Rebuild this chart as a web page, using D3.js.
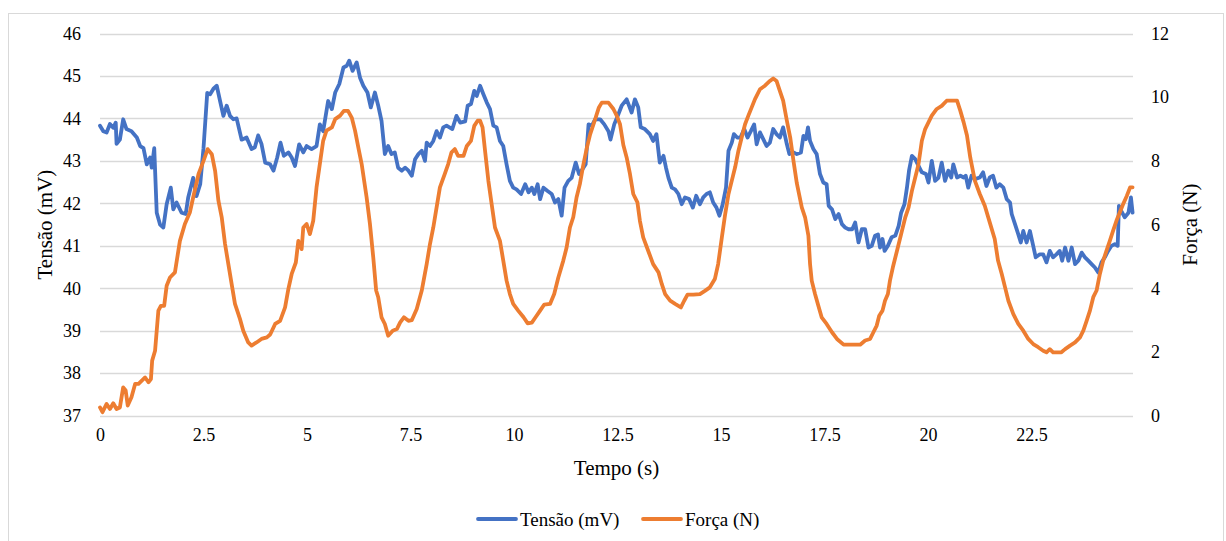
<!DOCTYPE html>
<html>
<head>
<meta charset="utf-8">
<script src="https://cdn.jsdelivr.net/npm/d3@7"></script>
<style>
  html, body { margin: 0; padding: 0; background: #fff; }
  svg text { font-family: 'Liberation Serif', 'DejaVu Serif', serif !important; fill: #000; }
</style>
</head>
<body>
<svg id="chart" width="1226" height="541"></svg>
<script>
// ---------- data ----------
const xTicks = [0, 2.5, 5, 7.5, 10, 12.5, 15, 17.5, 20, 22.5];
const leftTicks = [37, 38, 39, 40, 41, 42, 43, 44, 45, 46];
const rightTicks = [0, 2, 4, 6, 8, 10, 12];
const seriesNames = ["Tensão (mV)", "Força (N)"];

// Tensão (mV): [tempo (s), valor]
const tensao = [
[0,43.83],[0.08,43.7],[0.16,43.67],[0.24,43.87],[0.32,43.78],[0.38,43.9],[0.40,43.4],[0.48,43.5],[0.56,43.98],[0.64,43.75],[0.76,43.7],[0.89,43.55],[0.97,43.35],[1.05,43.3],[1.13,42.92],[1.21,43.08],[1.25,42.84],[1.31,43.3],[1.37,41.78],[1.45,41.5],[1.53,41.43],[1.61,41.98],[1.71,42.37],[1.77,41.86],[1.85,42.02],[1.97,41.78],[2.07,41.75],[2.13,42.14],[2.25,42.6],[2.33,42.17],[2.42,42.45],[2.50,43.3],[2.59,44.6],[2.66,44.57],[2.74,44.7],[2.82,44.77],[2.90,44.41],[2.98,44.06],[3.06,44.3],[3.14,44.06],[3.22,43.98],[3.30,44.0],[3.42,43.5],[3.54,43.55],[3.66,43.28],[3.74,43.32],[3.82,43.6],[3.90,43.4],[3.99,42.96],[4.11,42.92],[4.19,42.77],
[4.28,43.08],[4.36,43.43],[4.44,43.12],[4.55,43.2],[4.63,43.08],[4.71,42.88],[4.81,43.39],[4.91,43.2],[4.99,43.35],[5.11,43.28],[5.23,43.35],[5.31,43.86],[5.39,43.7],[5.51,44.41],[5.6,44.22],[5.68,44.61],[5.78,44.81],[5.88,45.2],[5.96,45.24],[6.02,45.36],[6.1,45.12],[6.2,45.32],[6.28,44.96],[6.36,44.77],[6.46,44.61],[6.54,44.26],[6.64,44.61],[6.72,44.3],[6.80,43.94],[6.88,43.16],[6.96,43.35],[7.04,43.16],[7.12,43.2],[7.2,42.84],[7.29,42.77],[7.37,42.84],[7.45,42.77],[7.53,42.65],[7.61,43.04],[7.69,43.16],[7.77,43.24],[7.85,43.0],[7.89,43.43],[7.97,43.35],[8.05,43.47],[8.13,43.7],[8.21,43.55],[8.29,43.79],[8.37,43.83],
[8.51,43.75],[8.61,44.06],[8.7,43.9],[8.82,43.93],[8.88,44.3],[8.96,44.34],[9.04,44.65],[9.1,44.53],[9.18,44.77],[9.26,44.57],[9.34,44.38],[9.42,44.22],[9.5,43.83],[9.58,43.79],[9.66,43.47],[9.74,43.35],[9.82,42.92],[9.9,42.53],[9.98,42.37],[10.06,42.33],[10.17,42.22],[10.27,42.45],[10.35,42.26],[10.43,42.37],[10.49,42.22],[10.57,42.45],[10.63,42.1],[10.71,42.37],[10.81,42.29],[10.91,42.22],[10.99,42.02],[11.07,42.1],[11.15,41.71],[11.22,42.37],[11.31,42.53],[11.39,42.6],[11.49,42.96],[11.57,42.69],[11.65,42.8],[11.73,42.92],[11.8,43.86],[11.88,43.83],[11.96,43.98],[12.08,43.98],[12.18,43.86],[12.28,43.7],[12.33,43.5],[12.42,43.86],[12.52,44.1],[12.6,44.3],
[12.72,44.45],[12.84,44.14],[12.92,44.45],[13.0,44.26],[13.06,43.79],[13.16,43.75],[13.28,43.63],[13.36,43.47],[13.44,43.63],[13.52,42.96],[13.61,43.12],[13.67,42.84],[13.73,42.6],[13.81,42.37],[13.89,42.33],[13.97,42.22],[14.05,41.98],[14.13,42.14],[14.23,42.1],[14.32,41.9],[14.4,42.18],[14.49,41.98],[14.57,42.14],[14.65,42.22],[14.73,42.26],[14.81,42.02],[14.89,41.9],[14.96,41.71],[15.04,41.98],[15.12,42.37],[15.18,43.24],[15.26,43.43],[15.31,43.63],[15.39,43.55],[15.47,43.55],[15.56,43.75],[15.64,43.55],[15.72,43.7],[15.8,43.86],[15.86,43.39],[15.94,43.67],[16.04,43.47],[16.1,43.35],[16.18,43.43],[16.26,43.75],[16.34,43.63],[16.42,43.55],[16.5,43.79],[16.59,43.39],[16.65,43.16],[16.75,43.2],[16.83,43.16],
[16.93,43.2],[16.99,43.59],[17.05,43.51],[17.1,43.79],[17.15,43.47],[17.23,43.28],[17.31,43.16],[17.39,42.69],[17.47,42.49],[17.55,42.45],[17.6,41.94],[17.68,41.86],[17.76,41.63],[17.84,41.75],[17.92,41.51],[18.0,41.43],[18.08,41.39],[18.17,41.39],[18.24,41.55],[18.32,41.08],[18.4,41.39],[18.48,41.39],[18.56,40.96],[18.64,41.0],[18.72,41.24],[18.79,41.27],[18.84,40.96],[18.9,41.16],[18.95,40.88],[19.03,41.0],[19.12,41.2],[19.21,41.24],[19.29,41.47],[19.35,41.78],[19.43,41.98],[19.49,42.37],[19.54,42.77],[19.61,43.12],[19.69,43.04],[19.77,42.88],[19.85,42.73],[19.95,42.69],[20.01,42.49],[20.09,43.0],[20.17,42.53],[20.25,42.6],[20.33,42.96],[20.41,42.53],[20.49,42.77],[20.56,42.61],[20.61,42.92],[20.7,42.61],[20.78,42.65],[20.86,42.61],[20.91,42.65],
[20.97,42.37],[21.05,42.65],[21.13,42.57],[21.25,42.61],[21.33,42.73],[21.41,42.41],[21.49,42.61],[21.57,42.65],[21.65,42.37],[21.73,42.45],[21.82,42.37],[21.9,42.1],[21.98,42.02],[22.02,41.75],[22.1,41.51],[22.18,41.27],[22.24,41.08],[22.3,41.35],[22.38,41.08],[22.46,41.35],[22.54,41.0],[22.6,40.73],[22.7,40.8],[22.78,40.8],[22.86,40.61],[22.94,40.88],[23.02,40.73],[23.1,40.8],[23.18,40.88],[23.24,40.65],[23.31,40.96],[23.39,40.65],[23.47,40.96],[23.55,40.57],[23.63,40.65],[23.71,40.84],[23.79,40.73],[23.87,40.65],[23.95,40.57],[24.03,40.49],[24.11,40.37],[24.19,40.61],[24.27,40.73],[24.35,40.88],[24.43,41.0],[24.51,41.04],[24.58,41.0],[24.61,41.94],[24.67,41.82],[24.75,41.67],[24.84,41.78],[24.9,42.14],[24.94,41.78]
];

// Força (N): [tempo (s), valor]
const forca = [
[0,0.26],[0.06,0.11],[0.16,0.37],[0.24,0.21],[0.32,0.39],[0.40,0.21],[0.48,0.26],[0.56,0.89],[0.62,0.79],[0.67,0.32],[0.76,0.58],[0.85,1.0],[0.93,1.0],[1.01,1.1],[1.09,1.2],[1.17,1.05],[1.23,1.15],[1.26,1.73],[1.33,2.04],[1.41,3.3],[1.47,3.45],[1.55,3.45],[1.61,4.08],[1.69,4.34],[1.81,4.5],[1.93,5.49],[2.05,6.02],[2.17,6.38],[2.25,6.85],[2.38,7.59],[2.50,8.0],[2.60,8.37],[2.70,8.21],[2.78,7.69],[2.86,6.75],[2.94,6.23],[3.02,5.39],[3.10,4.76],[3.18,4.13],[3.26,3.51],[3.38,3.04],[3.46,2.67],[3.58,2.30],[3.66,2.2],[3.78,2.3],[3.90,2.41],[4.03,2.46],
[4.11,2.55],[4.23,2.88],[4.35,2.98],[4.47,3.4],[4.55,3.98],[4.63,4.45],[4.73,4.81],[4.79,5.49],[4.87,5.23],[4.91,5.91],[4.99,6.02],[5.07,5.7],[5.15,6.12],[5.23,7.17],[5.31,7.9],[5.39,8.63],[5.47,8.95],[5.6,9.05],[5.68,9.31],[5.80,9.42],[5.89,9.57],[5.99,9.57],[6.08,9.36],[6.16,8.95],[6.24,8.42],[6.32,7.9],[6.44,6.85],[6.52,6.02],[6.6,4.97],[6.67,3.93],[6.72,3.72],[6.80,3.09],[6.88,2.88],[6.96,2.51],[7.07,2.67],[7.17,2.72],[7.25,2.93],[7.34,3.09],[7.45,2.98],[7.53,3.0],[7.65,3.35],[7.77,3.92],[7.89,4.76],[7.97,5.39],[8.05,5.91],[8.13,6.54],[8.21,7.17],[8.33,7.6],
[8.41,7.9],[8.49,8.27],[8.57,8.37],[8.65,8.16],[8.78,8.16],[8.86,8.47],[8.96,8.63],[9.04,9.1],[9.12,9.26],[9.18,9.26],[9.24,9.05],[9.3,8.32],[9.38,7.38],[9.46,6.64],[9.54,5.91],[9.66,5.49],[9.74,4.87],[9.82,4.24],[9.9,3.82],[9.98,3.51],[10.1,3.3],[10.23,3.09],[10.33,2.9],[10.43,2.92],[10.52,3.09],[10.63,3.3],[10.73,3.49],[10.87,3.51],[10.97,3.82],[11.07,4.34],[11.19,4.87],[11.27,5.28],[11.35,5.91],[11.43,6.23],[11.51,6.85],[11.59,7.27],[11.67,7.85],[11.76,8.42],[11.84,8.84],[11.96,9.31],[12.05,9.68],[12.12,9.83],[12.28,9.83],[12.4,9.63],[12.48,9.42],[12.56,9.15],[12.64,8.5],
[12.72,8.11],[12.8,7.59],[12.88,6.96],[12.98,6.7],[13.04,6.12],[13.12,5.6],[13.24,5.18],[13.36,4.76],[13.49,4.5],[13.57,4.13],[13.65,3.82],[13.77,3.61],[13.89,3.51],[14.03,3.4],[14.11,3.61],[14.19,3.8],[14.33,3.8],[14.49,3.82],[14.61,3.92],[14.73,4.03],[14.85,4.29],[14.93,4.76],[15.02,5.6],[15.1,6.33],[15.18,6.96],[15.26,7.38],[15.34,7.8],[15.42,8.32],[15.5,8.74],[15.58,9.15],[15.66,9.42],[15.74,9.68],[15.82,9.94],[15.94,10.25],[16.06,10.36],[16.18,10.51],[16.26,10.59],[16.34,10.51],[16.42,10.2],[16.5,9.89],[16.59,9.26],[16.67,8.74],[16.75,8.0],
[16.83,7.3],[16.95,6.54],[17.03,6.23],[17.11,5.65],[17.15,4.76],[17.19,4.24],[17.27,3.82],[17.35,3.45],[17.43,3.09],[17.55,2.88],[17.68,2.62],[17.8,2.41],[17.96,2.23],[18.16,2.23],[18.36,2.23],[18.48,2.36],[18.6,2.41],[18.68,2.62],[18.76,2.83],[18.82,3.14],[18.9,3.3],[18.96,3.61],[19.03,3.82],[19.08,4.24],[19.15,4.66],[19.25,5.18],[19.35,5.7],[19.45,6.23],[19.53,6.54],[19.61,7.06],[19.69,7.48],[19.77,7.9],[19.85,8.63],[19.93,9.0],[20.01,9.21],[20.09,9.42],[20.21,9.63],[20.33,9.73],[20.45,9.89],[20.57,9.89],[20.7,9.89],[20.78,9.57],[20.86,9.21],
[20.94,8.8],[21.02,8.1],[21.13,7.38],[21.25,6.96],[21.37,6.59],[21.49,6.07],[21.61,5.55],[21.69,4.87],[21.78,4.45],[21.86,4.03],[21.94,3.61],[22.06,3.19],[22.18,2.88],[22.3,2.67],[22.42,2.41],[22.54,2.25],[22.66,2.15],[22.78,2.04],[22.86,1.99],[22.94,2.09],[23.02,1.99],[23.14,1.99],[23.22,1.99],[23.31,2.09],[23.43,2.2],[23.55,2.3],[23.67,2.46],[23.75,2.67],[23.83,2.98],[23.91,3.3],[23.99,3.72],[24.07,3.93],[24.15,4.45],[24.23,4.87],[24.31,5.18],[24.39,5.49],[24.47,5.81],[24.55,6.12],[24.63,6.38],[24.71,6.64],[24.8,6.9],[24.88,7.17],[24.94,7.17]
];

// ---------- layout ----------
const W = 1226, H = 541;
const FONT = "'Liberation Serif', 'DejaVu Serif', serif";
const plot = { left: 100, right: 1133, top: 33.5, bottom: 415.7 };
const colors = { tensao: "#4472C4", forca: "#ED7D31", grid: "#d9d9d9" };

const svg = d3.select("#chart").style("font-family", FONT);
svg.append("rect").attr("width", W).attr("height", H).attr("fill", "#fff");
svg.append("rect").attr("x", 8.5).attr("y", 13.5).attr("width", 1215).attr("height", 560)
  .attr("fill", "none").attr("stroke", colors.grid).attr("stroke-width", 1);

const x = d3.scaleLinear().domain([0, 24.95]).range([plot.left, plot.right]);
const yL = d3.scaleLinear().domain([37, 46]).range([plot.bottom, plot.top]);
const yR = d3.scaleLinear().domain([0, 12]).range([plot.bottom, plot.top]);

// gridlines
svg.append("g").selectAll("line").data(leftTicks).join("line")
  .attr("x1", plot.left).attr("x2", plot.right)
  .attr("y1", d => Math.round(yL(d)) + 0.5).attr("y2", d => Math.round(yL(d)) + 0.5)
  .attr("stroke", colors.grid).attr("stroke-width", 1.3);

// axes
const fs = 18;
const axL = svg.append("g").attr("transform", `translate(${plot.left},0)`)
  .call(d3.axisLeft(yL).tickValues(leftTicks).tickSize(0).tickPadding(19).tickFormat(d3.format("d")));
const axR = svg.append("g").attr("transform", `translate(${plot.right},0)`)
  .call(d3.axisRight(yR).tickValues(rightTicks).tickSize(0).tickPadding(18).tickFormat(d3.format("d")));
const axB = svg.append("g").attr("transform", `translate(0,${plot.bottom})`)
  .call(d3.axisBottom(x).tickValues(xTicks).tickSize(0).tickPadding(13).tickFormat(d => String(d)));
[axL, axR, axB].forEach(a => {
  a.attr("font-family", FONT).attr("font-size", fs);
  a.select(".domain").remove();
  a.selectAll("text").attr("font-size", fs).style("font-family", FONT).attr("fill", "#000");
});

// lines
const line = (ys) => d3.line().x(d => x(d[0])).y(d => ys(d[1]));
svg.append("path").datum(tensao).attr("d", line(yL))
  .attr("fill", "none").attr("stroke", colors.tensao).attr("stroke-width", 3.8)
  .attr("stroke-linejoin", "round").attr("stroke-linecap", "round");
svg.append("path").datum(forca).attr("d", line(yR))
  .attr("fill", "none").attr("stroke", colors.forca).attr("stroke-width", 3.8)
  .attr("stroke-linejoin", "round").attr("stroke-linecap", "round");

// axis titles
const cy = (plot.top + plot.bottom) / 2;
svg.append("text").attr("x", (plot.left + plot.right) / 2).attr("y", 475)
  .attr("text-anchor", "middle").attr("font-size", 21).style("font-family", FONT).text("Tempo (s)");
svg.append("text").attr("transform", `translate(52,${cy}) rotate(-90)`)
  .attr("text-anchor", "middle").attr("font-size", 21).style("font-family", FONT).text("Tensão (mV)");
svg.append("text").attr("transform", `translate(1197,${cy}) rotate(-90)`)
  .attr("text-anchor", "middle").attr("font-size", 21).style("font-family", FONT).text("Força (N)");

// legend
const legend = [
  { name: seriesNames[0], color: colors.tensao, x: 478 },
  { name: seriesNames[1], color: colors.forca, x: 643 }
];
const lg = svg.append("g");
legend.forEach(l => {
  lg.append("line").attr("x1", l.x).attr("x2", l.x + 38).attr("y1", 519).attr("y2", 519)
    .attr("stroke", l.color).attr("stroke-width", 3.8).attr("stroke-linecap", "round");
  lg.append("text").attr("x", l.x + 42).attr("y", 519).attr("dy", "0.35em")
    .attr("font-size", 19).style("font-family", FONT).text(l.name);
});
</script>
</body>
</html>
